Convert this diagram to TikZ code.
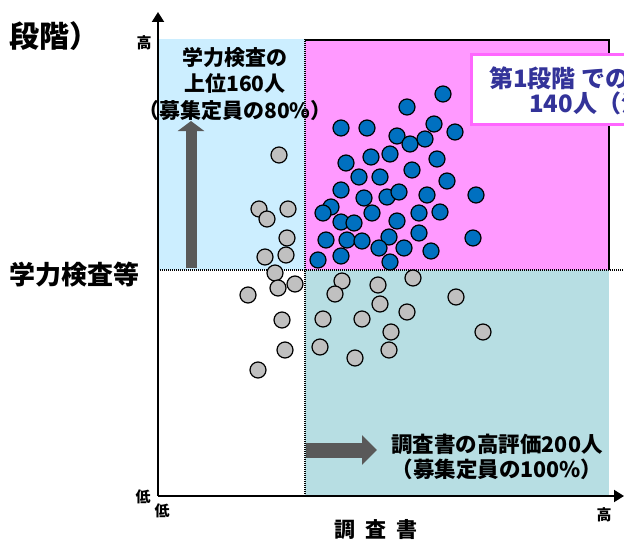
\documentclass[tikz,border=0pt]{standalone}
\usepackage{fontspec}
\setmainfont{Noto Sans CJK JP}
\usepackage{xcolor}
\usepackage{tikz}
\usetikzlibrary{arrows.meta}
\definecolor{areaBlue}{HTML}{CCEEFF}
\definecolor{areaPink}{HTML}{FF99FF}
\definecolor{areaTeal}{HTML}{B7DEE3}
\definecolor{dotBlue}{HTML}{0070C0}
\definecolor{dotGray}{HTML}{C0C0C0}
\definecolor{arrowGray}{HTML}{595959}
\definecolor{boxPink}{HTML}{FF66FF}
\definecolor{boxText}{HTML}{333399}
\tikzstyle{blueDot} = [draw=black, fill=dotBlue, circle, line width=1.2pt,
   inner sep=0, minimum size=16pt]
\tikzstyle{grayDot} = [draw=black, fill=dotGray, circle, line width=1.2pt,
   inner sep=0, minimum size=16pt]
\tikzstyle{fatArrow} = [arrowGray, line width=11pt,
   -{Triangle[width=26pt,length=10pt]}]
\tikzstyle{sideArrow} = [arrowGray, line width=15pt,
   -{Triangle[width=29pt,length=15pt]}]
\tikzstyle{borderDots} = [line width=1.5pt, dash pattern=on 1pt off 1pt]
\tikzstyle{axisLine} = [line width=2pt, -{Triangle[width=12pt,length=10pt]}]
\tikzstyle{label} = [inner sep=0, font=\bfseries]
\begin{document}
\begin{tikzpicture}[x=1pt, y=-1pt]
  \useasboundingbox (0,0) rectangle (624,543);
  \clip (0,0) rectangle (624,543);

  % areas
  \fill[areaBlue] (158,39) rectangle (305,270);
  \fill[areaPink] (305,40) rectangle (609,270);
  \fill[areaTeal] (305,270) rectangle (609,496);
  \draw[line width=1.2pt] (305,40) -- (609,40) -- (609,270);
  \draw[borderDots] (158,270) -- (624,270);
  \draw[borderDots] (305,39) -- (305,496);

  % axes
  \coordinate (o) at (158,496);
  \coordinate (yTop) at (158,12);
  \coordinate (xEnd) at (624,496);
  \draw[axisLine] (o) -- (yTop);
  \draw[axisLine] (o) -- (xEnd);

  % thick arrows
  \coordinate (upTail) at (191,268);
  \coordinate (upHead) at (191,121);
  \coordinate (rightTail) at (306,450);
  \coordinate (rightHead) at (377,450);
  \draw[fatArrow] (upTail) -- (upHead);
  \draw[sideArrow] (rightTail) -- (rightHead);

  % labels
  \node[label, font=\bfseries\fontsize{30}{30}\selectfont, anchor=west] (title) at (9,36) {段階）};
  \node[label, font=\bfseries\fontsize{26}{26}\selectfont, anchor=west] (yName) at (9,275) {学力検査等};
  \node[label, font=\bfseries\fontsize{15}{15}\selectfont] (yHigh) at (144,43) {高};
  \node[label, font=\bfseries\fontsize{15}{15}\selectfont] (yLow) at (143,497) {低};
  \node[label, font=\bfseries\fontsize{15}{15}\selectfont] (xLow) at (162,511) {低};
  \node[label, font=\bfseries\fontsize{15}{15}\selectfont] (xHigh) at (604,515) {高};
  \node[label, font=\bfseries\fontsize{21}{21}\selectfont] (xName) at (376,530) {調\hspace{10pt}査\hspace{10pt}書};
  \node[label, font=\bfseries\fontsize{21}{26.5}\selectfont, align=center] (topText) at (235,84)
    {学力検査の\\上位160人\\（募集定員の80\%）};
  \node[label, font=\bfseries\fontsize{21.5}{25}\selectfont, align=center] (sideText) at (497,457)
    {調査書の高評価200人\\（募集定員の100\%）};

  % first stage box
  \node[draw=boxPink, line width=3pt, fill=white, inner sep=0, minimum width=170pt,
    minimum height=70pt, anchor=north west] (stageBox) at (470,53) {};
  \node[label, font=\bfseries\fontsize{24}{24}\selectfont, text=boxText, anchor=west] (stage1) at (489,78) {第1段階 での};
  \node[label, font=\bfseries\fontsize{24}{24}\selectfont, text=boxText, anchor=west] (stage2) at (529,103) {140人（注};

  % gray dots
  \node[grayDot] (g1) at (279,155) {};
  \node[grayDot] (g2) at (259,209) {};
  \node[grayDot] (g3) at (267,219) {};
  \node[grayDot] (g4) at (288,209) {};
  \node[grayDot] (g5) at (287,238) {};
  \node[grayDot] (g6) at (265,257) {};
  \node[grayDot] (g7) at (286,255) {};
  \node[grayDot] (g8) at (275,273) {};
  \node[grayDot] (g9) at (278,288) {};
  \node[grayDot] (g10) at (295,284) {};
  \node[grayDot] (g11) at (248,295) {};
  \node[grayDot] (g12) at (282,320) {};
  \node[grayDot] (g13) at (285,350) {};
  \node[grayDot] (g14) at (258,370) {};
  \node[grayDot] (g15) at (342,281) {};
  \node[grayDot] (g16) at (378,285) {};
  \node[grayDot] (g17) at (413,278) {};
  \node[grayDot] (g18) at (335,294) {};
  \node[grayDot] (g19) at (380,304) {};
  \node[grayDot] (g20) at (456,297) {};
  \node[grayDot] (g21) at (323,319) {};
  \node[grayDot] (g22) at (362,319) {};
  \node[grayDot] (g23) at (407,312) {};
  \node[grayDot] (g24) at (391,332) {};
  \node[grayDot] (g25) at (483,332) {};
  \node[grayDot] (g26) at (320,347) {};
  \node[grayDot] (g27) at (355,358) {};
  \node[grayDot] (g28) at (389,350) {};

  % blue dots
  \node[blueDot] (b1) at (443,94) {};
  \node[blueDot] (b2) at (407,107) {};
  \node[blueDot] (b3) at (341,128) {};
  \node[blueDot] (b4) at (367,128) {};
  \node[blueDot] (b5) at (434,124) {};
  \node[blueDot] (b6) at (397,136) {};
  \node[blueDot] (b7) at (455,132) {};
  \node[blueDot] (b8) at (410,144) {};
  \node[blueDot] (b9) at (425,139) {};
  \node[blueDot] (b10) at (371,157) {};
  \node[blueDot] (b11) at (390,154) {};
  \node[blueDot] (b12) at (346,163) {};
  \node[blueDot] (b13) at (437,159) {};
  \node[blueDot] (b14) at (412,170) {};
  \node[blueDot] (b15) at (359,177) {};
  \node[blueDot] (b16) at (380,177) {};
  \node[blueDot] (b17) at (447,181) {};
  \node[blueDot] (b18) at (341,190) {};
  \node[blueDot] (b19) at (364,198) {};
  \node[blueDot] (b20) at (387,197) {};
  \node[blueDot] (b21) at (399,192) {};
  \node[blueDot] (b22) at (427,195) {};
  \node[blueDot] (b23) at (476,195) {};
  \node[blueDot] (b24) at (331,207) {};
  \node[blueDot] (b25) at (323,213) {};
  \node[blueDot] (b26) at (372,213) {};
  \node[blueDot] (b27) at (419,213) {};
  \node[blueDot] (b28) at (440,212) {};
  \node[blueDot] (b29) at (341,222) {};
  \node[blueDot] (b30) at (354,223) {};
  \node[blueDot] (b31) at (397,221) {};
  \node[blueDot] (b32) at (326,240) {};
  \node[blueDot] (b33) at (347,240) {};
  \node[blueDot] (b34) at (362,241) {};
  \node[blueDot] (b35) at (389,237) {};
  \node[blueDot] (b36) at (419,233) {};
  \node[blueDot] (b37) at (473,238) {};
  \node[blueDot] (b38) at (379,248) {};
  \node[blueDot] (b39) at (404,248) {};
  \node[blueDot] (b40) at (431,251) {};
  \node[blueDot] (b41) at (318,260) {};
  \node[blueDot] (b42) at (341,256) {};
  \node[blueDot] (b43) at (390,262) {};
\end{tikzpicture}
\end{document}
